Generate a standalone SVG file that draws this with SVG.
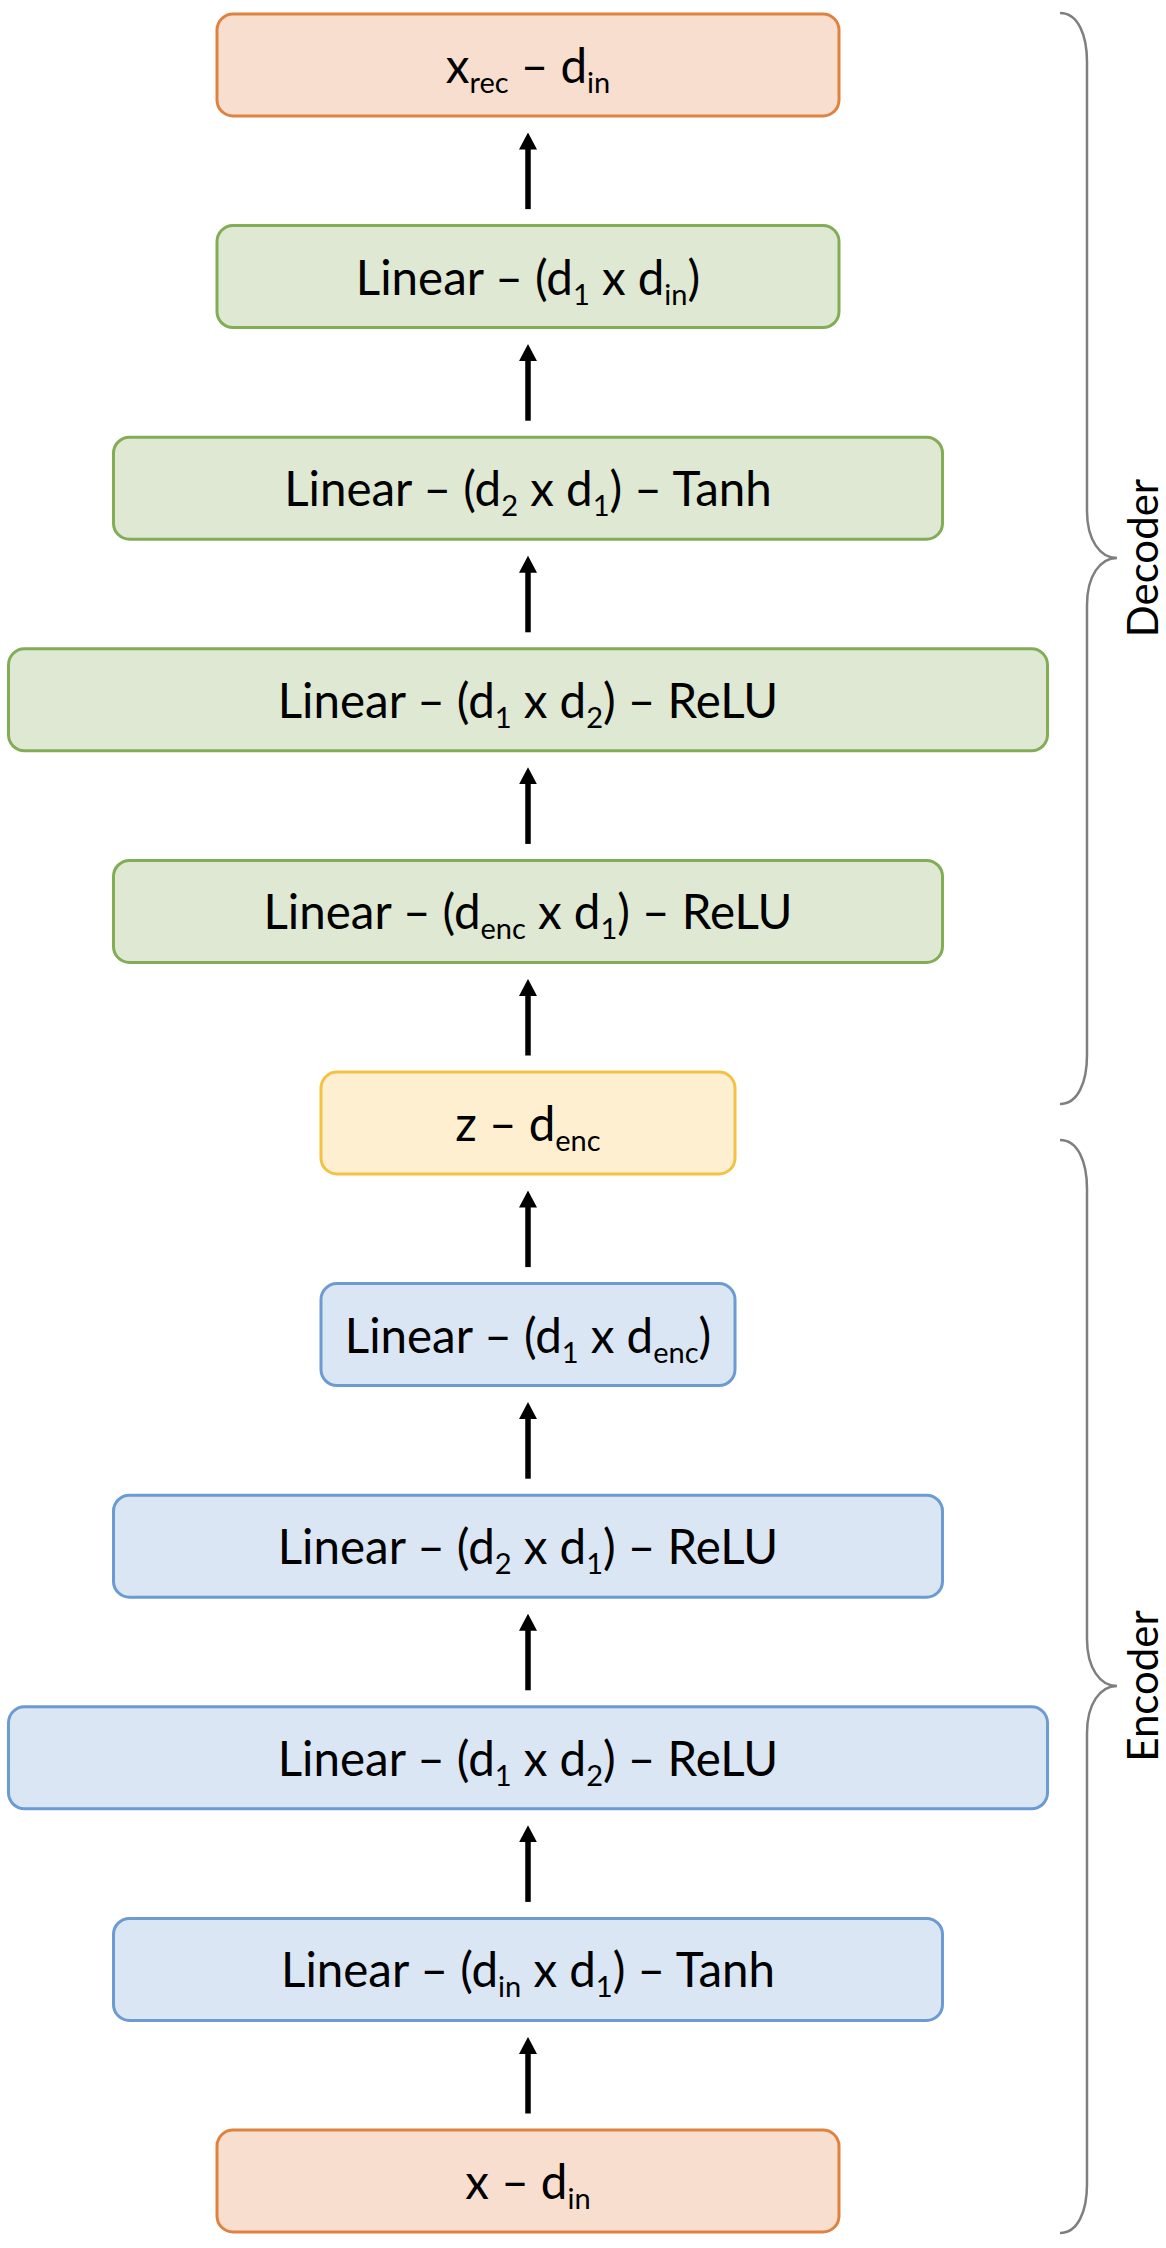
<svg xmlns="http://www.w3.org/2000/svg" width="1166" height="2248" viewBox="0 0 1166 2248">
<style>
.box{stroke-width:3}
.or{fill:#F7DECF;stroke:#E0823F}
.gr{fill:#DEE8D2;stroke:#82AC55}
.bl{fill:#DAE6F3;stroke:#6B9BD1}
.ye{fill:#FDEFD0;stroke:#F4C145}
.t{font-family:Lato,"Open Sans","Liberation Sans",sans-serif;font-size:47.5px;fill:#000;text-anchor:middle}
.s{font-size:29px}
.lab{font-family:Lato,"Open Sans","Liberation Sans",sans-serif;font-size:42px;fill:#000;text-anchor:middle}
.arr{stroke:#000;stroke-width:5.5;fill:none}
.brace{stroke:#7F7F7F;stroke-width:2.5;fill:none}
</style>
<defs>
<marker id="ah" markerUnits="userSpaceOnUse" markerWidth="17" markerHeight="18" refX="7" refY="9" orient="auto" viewBox="0 0 17 18">
<path d="M0,0 L17,9 L0,18 z" fill="#000"/>
</marker>
</defs>
<rect width="1166" height="2248" fill="#fff"/>
<g id="n1"><rect class="box or" x="217" y="14" width="622" height="102" rx="16"/>
<text class="t" x="528" y="83">x<tspan class="s" dy="10">rec</tspan><tspan dy="-10"> – d</tspan><tspan class="s" dy="10">in</tspan></text></g>
<g id="n2"><rect class="box gr" x="217" y="225.6" width="622" height="102" rx="16"/>
<text class="t" x="528" y="294.6">Linear – (d<tspan class="s" dy="10">1</tspan><tspan dy="-10"> x d</tspan><tspan class="s" dy="10">in</tspan><tspan dy="-10">)</tspan></text></g>
<g id="n3"><rect class="box gr" x="113.5" y="437.2" width="829" height="102" rx="16"/>
<text class="t" x="528" y="506.2">Linear – (d<tspan class="s" dy="10">2</tspan><tspan dy="-10"> x d</tspan><tspan class="s" dy="10">1</tspan><tspan dy="-10">) – Tanh</tspan></text></g>
<g id="n4"><rect class="box gr" x="8.5" y="648.8" width="1039" height="102" rx="16"/>
<text class="t" x="528" y="717.8">Linear – (d<tspan class="s" dy="10">1</tspan><tspan dy="-10"> x d</tspan><tspan class="s" dy="10">2</tspan><tspan dy="-10">) – ReLU</tspan></text></g>
<g id="n5"><rect class="box gr" x="113.5" y="860.4" width="829" height="102" rx="16"/>
<text class="t" x="528" y="929.4">Linear – (d<tspan class="s" dy="10">enc</tspan><tspan dy="-10"> x d</tspan><tspan class="s" dy="10">1</tspan><tspan dy="-10">) – ReLU</tspan></text></g>
<g id="n6"><rect class="box ye" x="321" y="1072" width="414" height="102" rx="16"/>
<text class="t" x="528" y="1141">z – d<tspan class="s" dy="10">enc</tspan></text></g>
<g id="n7"><rect class="box bl" x="321" y="1283.6" width="414" height="102" rx="16"/>
<text class="t" x="528" y="1352.6">Linear – (d<tspan class="s" dy="10">1</tspan><tspan dy="-10"> x d</tspan><tspan class="s" dy="10">enc</tspan><tspan dy="-10">)</tspan></text></g>
<g id="n8"><rect class="box bl" x="113.5" y="1495.2" width="829" height="102" rx="16"/>
<text class="t" x="528" y="1564.2">Linear – (d<tspan class="s" dy="10">2</tspan><tspan dy="-10"> x d</tspan><tspan class="s" dy="10">1</tspan><tspan dy="-10">) – ReLU</tspan></text></g>
<g id="n9"><rect class="box bl" x="8.5" y="1706.8" width="1039" height="102" rx="16"/>
<text class="t" x="528" y="1775.8">Linear – (d<tspan class="s" dy="10">1</tspan><tspan dy="-10"> x d</tspan><tspan class="s" dy="10">2</tspan><tspan dy="-10">) – ReLU</tspan></text></g>
<g id="n10"><rect class="box bl" x="113.5" y="1918.4" width="829" height="102" rx="16"/>
<text class="t" x="528" y="1987.4">Linear – (d<tspan class="s" dy="10">in</tspan><tspan dy="-10"> x d</tspan><tspan class="s" dy="10">1</tspan><tspan dy="-10">) – Tanh</tspan></text></g>
<g id="n11"><rect class="box or" x="217" y="2130" width="622" height="102" rx="16"/>
<text class="t" x="528" y="2199">x – d<tspan class="s" dy="10">in</tspan></text></g>
<g id="connectors">
<line class="arr" marker-end="url(#ah)" x1="528" y1="209.1" x2="528" y2="142.5"/>
<line class="arr" marker-end="url(#ah)" x1="528" y1="420.7" x2="528" y2="354.1"/>
<line class="arr" marker-end="url(#ah)" x1="528" y1="632.3" x2="528" y2="565.7"/>
<line class="arr" marker-end="url(#ah)" x1="528" y1="843.9" x2="528" y2="777.3"/>
<line class="arr" marker-end="url(#ah)" x1="528" y1="1055.5" x2="528" y2="988.9"/>
<line class="arr" marker-end="url(#ah)" x1="528" y1="1267.1" x2="528" y2="1200.5"/>
<line class="arr" marker-end="url(#ah)" x1="528" y1="1478.7" x2="528" y2="1412.1"/>
<line class="arr" marker-end="url(#ah)" x1="528" y1="1690.3" x2="528" y2="1623.7"/>
<line class="arr" marker-end="url(#ah)" x1="528" y1="1901.9" x2="528" y2="1835.3"/>
<line class="arr" marker-end="url(#ah)" x1="528" y1="2113.5" x2="528" y2="2046.9"/>
</g>
<g id="decoder">
<path class="brace" d="M1060,13 C1078,13 1087,35 1087,62 L1087,511 C1087,540 1100,558 1117,558 C1100,558 1087,576 1087,605 L1087,1055 C1087,1082 1078,1104 1060,1104"/>
<text class="lab" transform="translate(1158,558) rotate(-90)">Decoder</text>
</g>
<g id="encoder">
<path class="brace" d="M1060,1140 C1078,1140 1087,1162 1087,1189 L1087,1639 C1087,1668 1100,1686 1117,1686 C1100,1686 1087,1704 1087,1733 L1087,2184 C1087,2211 1078,2233 1060,2233"/>
<text class="lab" transform="translate(1158,1686) rotate(-90)">Encoder</text>
</g>
</svg>
